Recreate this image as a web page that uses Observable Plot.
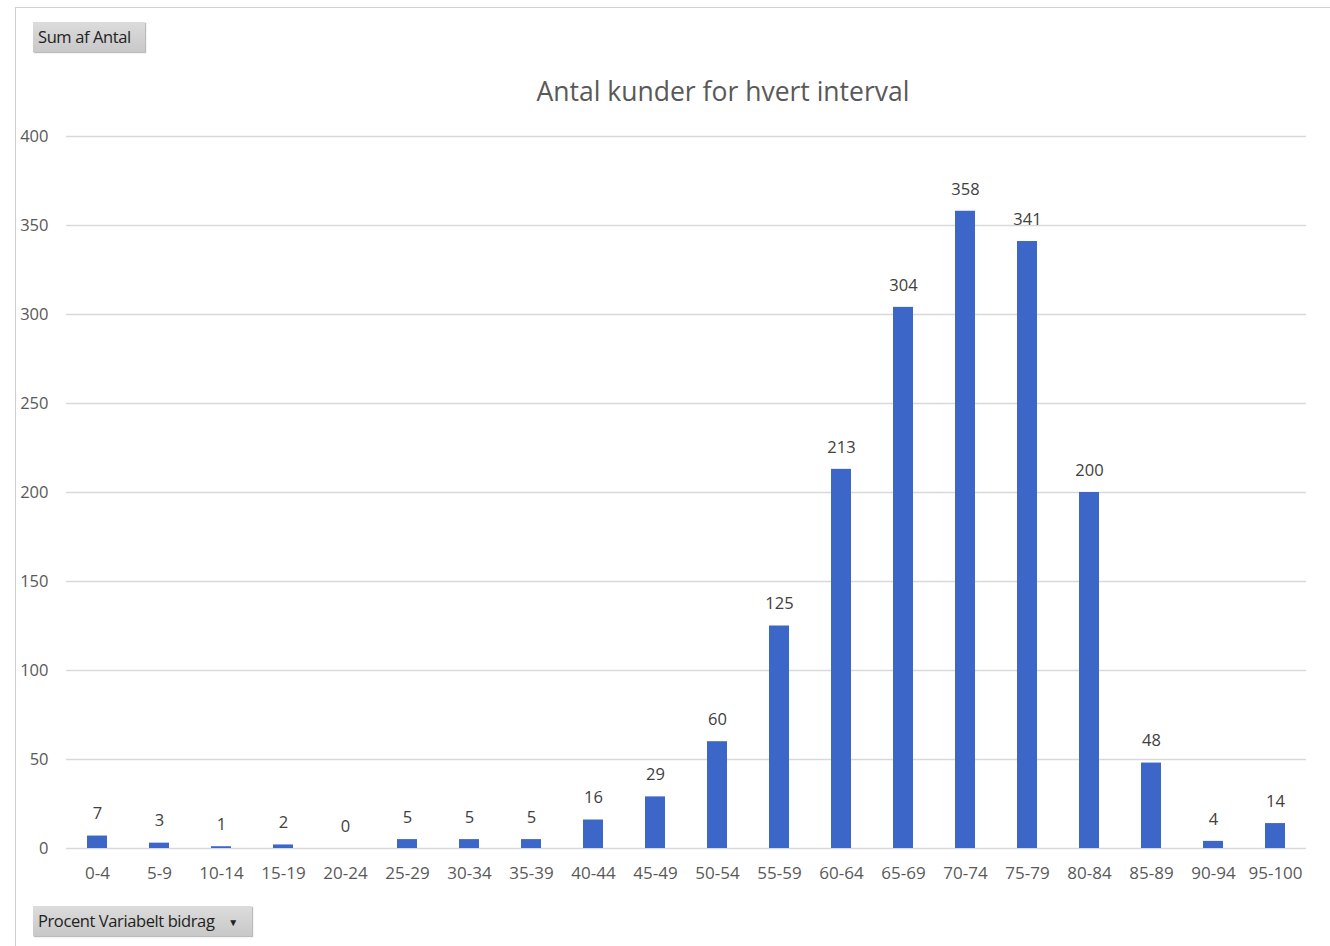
<!DOCTYPE html>
<html>
<head>
<meta charset="utf-8">
<script src="https://cdn.jsdelivr.net/npm/d3@7"></script>
<script src="https://cdn.jsdelivr.net/npm/@observablehq/plot@0.6"></script>
<style>
  html, body { margin: 0; padding: 0; background: #fff; }
  #wrap { position: relative; width: 1330px; height: 946px; overflow: hidden; font-family: "Open Sans", "Noto Sans", sans-serif; }
  #frame { position: absolute; left: 15px; top: 7px; width: 1330px; height: 960px; border-left: 1px solid #d0d0d0; border-top: 1px solid #d0d0d0; }
  .btn { position: absolute; background: linear-gradient(#dcdcdc, #c8c8c8); color: #222; font-size: 16.5px; line-height: 30px; height: 30px; padding: 0 5px; box-shadow: 1px 1px 1px #bbb; letter-spacing: -0.4px; white-space: nowrap; box-sizing: border-box; }
  #title { position: absolute; left: 0; width: 1446px; top: 73px; text-align: center; font-size: 26.5px; color: #595959; }
  #plot { position: absolute; left: 0; top: 0; }
</style>
</head>
<body>
<div id="wrap">
  <div id="plot"></div>
  <div id="frame"></div>
  <div id="title">Antal kunder for hvert interval</div>
  <div class="btn" style="left:33px;top:22px;width:112px;">Sum af Antal</div>
  <div class="btn" style="left:33px;top:906px;width:219px;">Procent Variabelt bidrag <span style="font-size:10px;margin-left:10px;vertical-align:1px;">&#9660;</span></div>
</div>
<script>
const categories = ["0-4","5-9","10-14","15-19","20-24","25-29","30-34","35-39","40-44","45-49","50-54","55-59","60-64","65-69","70-74","75-79","80-84","85-89","90-94","95-100"];
const counts = [7,3,1,2,0,5,5,5,16,29,60,125,213,304,358,341,200,48,4,14];
const yTicks = [0,50,100,150,200,250,300,350,400];

const data = categories.map((c, i) => ({interval: c, antal: counts[i]}));

const chart = Plot.plot({
  width: 1330,
  height: 946,
  marginTop: 136,
  marginBottom: 98,
  marginLeft: 66,
  marginRight: 24,
  style: {fontFamily: "'Open Sans', 'Noto Sans', sans-serif", background: "transparent"},
  x: {domain: categories, paddingInner: 0.68, paddingOuter: 0.34, label: null, tickSize: 0, tickPadding: 18},
  y: {domain: [0, 400], ticks: yTicks, label: null, tickSize: 0, tickPadding: 18},
  marks: [
    Plot.ruleY(yTicks, {stroke: "#d9d9d9", strokeWidth: 1.3}),
    Plot.barY(data, {x: "interval", y: "antal", fill: "#3d66c9"}),
    Plot.text(data, {x: "interval", y: "antal", text: d => String(d.antal), dy: -22, fontSize: 16.5, fill: "#404040"}),
    Plot.axisY({ticks: yTicks, tickSize: 0, tickPadding: 18, fontSize: 16.5, color: "#595959", label: null}),
    Plot.axisX({tickSize: 0, tickPadding: 18, fontSize: 17, color: "#595959", label: null})
  ]
});
document.getElementById("plot").appendChild(chart);
</script>
</body>
</html>
